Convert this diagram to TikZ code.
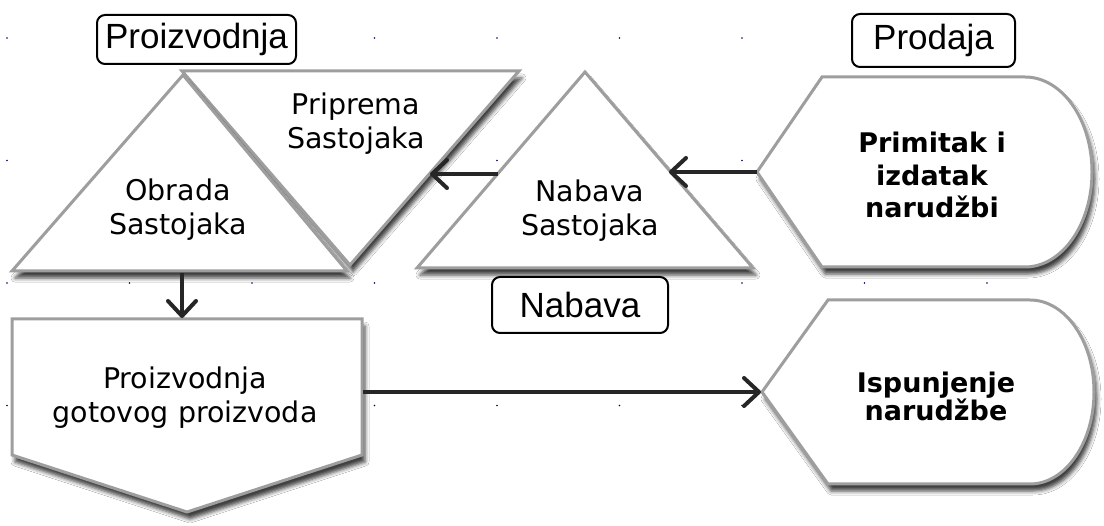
\documentclass[tikz,border=0pt]{standalone}
\usepackage{fontspec}
\setmainfont{DejaVu Sans}
\newfontfamily\helv{Liberation Sans}
\usetikzlibrary{arrows.meta,shadows.blur}
\tikzset{
  shp/.style={draw=black!38, line width=3pt, fill=white, line join=miter,
    blur shadow={shadow xshift=3pt, shadow yshift=-7pt, shadow blur radius=4pt, shadow opacity=75}},
  lbl/.style={draw=black, line width=2pt, rounded corners=8pt, fill=white,
    font=\helv\fontsize{35}{40}\selectfont, inner sep=0pt},
  txt/.style={align=center, font=\fontsize{28.5}{34}\selectfont, inner sep=0pt, text=black},
  btxt/.style={align=center, font=\bfseries\fontsize{27}{32.5}\selectfont, inner sep=0pt, text=black},
  conn/.style={draw=black!85, line width=4.5pt,
    -{Straight Barb[length=15pt,width=28pt,line width=4pt,round]}},
  gdot/.style={fill=blue!40!black, draw=none}
}
\begin{document}
\begin{tikzpicture}[x=1pt,y=-1pt]
\useasboundingbox (0,0) rectangle (1104,526);
\fill[white] (0,0) rectangle (1104,526);
% grid dots
\foreach \i in {0,...,8}{
  \foreach \j in {0,...,3}{
    \fill[gdot] (7+122.5*\i,38+122.5*\j) circle[radius=0.9];
  }
}
% shapes
\path[shp] (182,71) -- (519,71) -- (350,265) -- cycle; % Priprema
\path[shp] (183,75) -- (347,271) -- (12,271) -- cycle; % Obrada
\path[shp] (585,72) -- (753,268) -- (417,268) -- cycle; % Nabava
\path[shp] (757,172) -- (822,77) -- (1025,77)
   arc[start angle=-90, end angle=90, x radius=67, y radius=95]
   -- (822,267) -- cycle; % Primitak
\path[shp] (762,392) -- (828,300) -- (1030,300)
   arc[start angle=-90, end angle=90, x radius=64, y radius=92]
   -- (828,484) -- cycle; % Ispunjenje
\path[shp] (12,319) -- (362,319) -- (362,455) -- (187,512) -- (12,455) -- cycle; % Proizvodnja

% texts
\node[txt] (obrada) at (178,210) {Obrada\\Sastojaka};
\node[txt] (priprema) at (356,124) {Priprema\\Sastojaka};
\node[txt] (nabava) at (590,211) {Nabava\\Sastojaka};
\node[txt] (proizv) at (185,398) {Proizvodnja\\gotovog proizvoda};
\node[btxt] (primitak) at (932,175) {Primitak i\\izdatak\\narudžbi};
\node[btxt, font=\bfseries\fontsize{27}{28}\selectfont] (ispun) at (936,396) {Ispunjenje\\narudžbe};

% labels
\node[lbl, minimum width=199pt, minimum height=49pt] (lproizv) at (196.5,39.5) {Proizvodnja};
\node[lbl, minimum width=163pt, minimum height=53pt] (lprodaja) at (933.5,40.5) {Prodaja};
\node[lbl, minimum width=176pt, minimum height=56pt] (lnabava) at (580,305) {Nabava};

% connector endpoints
\coordinate (obB) at (182,273);
\coordinate (proT) at (182,318);
\coordinate (nabL) at (498,174);
\coordinate (priR) at (430,174);
\coordinate (primL) at (757,172);
\coordinate (nabR) at (669,172);
\coordinate (proR) at (363,392);
\coordinate (ispL) at (761,392);

\draw[conn] (obB) -- (proT);
\draw[conn] (nabL) -- (priR);
\draw[conn] (primL) -- (nabR);
\draw[conn] (proR) -- (ispL);
\end{tikzpicture}
\end{document}
